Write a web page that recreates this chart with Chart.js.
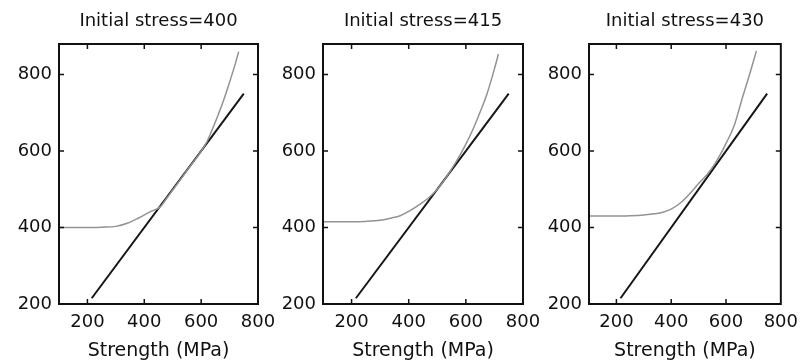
<!DOCTYPE html>
<html>
<head>
<meta charset="utf-8">
<script src="https://cdn.jsdelivr.net/npm/chart.js@4.4.1/dist/chart.umd.min.js"></script>
<style>
  body { margin: 0; background: #fff; width: 806px; height: 363px; position: relative; overflow: hidden; }
  canvas { position: absolute; top: 0; }
</style>
</head>
<body>
<canvas id="panel1" width="290" height="363" style="left:0px"></canvas>
<canvas id="panel2" width="290" height="363" style="left:264px"></canvas>
<canvas id="panel3" width="276" height="363" style="left:530px"></canvas>
<script>
const xTicks = [200, 400, 600, 800];
const yTicks = [200, 400, 600, 800];
const titles = ["Initial stress=400", "Initial stress=415", "Initial stress=430"];

// straight line, identical on the three panels
const lineX = [215, 750];
const lineY = [215, 750];

// stress curve, initial stress 400
const curveX400 = [100, 150, 200, 250, 300, 340, 380, 420, 450, 460, 480, 500, 550, 600, 620, 640, 660, 680, 700, 720, 732];
const curveY400 = [400, 400, 400, 401, 403, 411, 425, 441, 451, 457, 478, 498, 549, 600, 624, 658, 695, 735, 780, 828, 860];

// stress curve, initial stress 415
const curveX415 = [100, 150, 200, 250, 300, 340, 370, 400, 440, 470, 500, 530, 560, 580, 600, 625, 650, 675, 700, 714];
const curveY415 = [415, 415, 415, 416, 419, 425, 431, 442, 461, 478, 500, 530, 565, 590, 618, 657, 702, 752, 815, 854];

// stress curve, initial stress 430
const curveX430 = [100, 150, 200, 250, 300, 340, 370, 400, 440, 470, 500, 530, 560, 580, 600, 630, 660, 690, 711];
const curveY430 = [430, 430, 430, 431, 433, 436, 440, 448, 468, 490, 515, 538, 568, 592, 620, 667, 740, 810, 862];

Chart.defaults.font.family = "'DejaVu Sans', sans-serif";
Chart.defaults.color = "#111";

function pts(xs, ys) {
    return xs.map((x, i) => ({ x: x, y: ys[i] }));
}

// box around the plot area with inward tick marks on all four sides
const frame = {
    id: "frame",
    afterDatasetsDraw(chart) {
        const { ctx, chartArea: a, scales } = chart;
        ctx.save();
        ctx.strokeStyle = "#111";
        ctx.lineWidth = 2;
        ctx.strokeRect(a.left, a.top, a.width, a.height);
        ctx.lineWidth = 1.5;
        ctx.beginPath();
        xTicks.forEach(v => {
            const px = scales.x.getPixelForValue(v);
            if (px >= a.right - 2) return;
            ctx.moveTo(px, a.bottom); ctx.lineTo(px, a.bottom - 5);
            ctx.moveTo(px, a.top); ctx.lineTo(px, a.top + 5);
        });
        yTicks.forEach(v => {
            const py = scales.y.getPixelForValue(v);
            if (py >= a.bottom - 2) return;
            ctx.moveTo(a.left, py); ctx.lineTo(a.left + 5, py);
            ctx.moveTo(a.right, py); ctx.lineTo(a.right - 5, py);
        });
        ctx.stroke();
        ctx.restore();
    }
};

function createPanel(canvasId, title, curveX, curveY, padRight) {
    const ctx = document.getElementById(canvasId).getContext("2d");
    new Chart(ctx, {
        type: "line",
        data: {
            datasets: [{
                data: pts(curveX, curveY),
                borderColor: "#939393",
                borderWidth: 1.5,
                pointRadius: 0,
                cubicInterpolationMode: "monotone"
            }, {
                data: pts(lineX, lineY),
                borderColor: "#161616",
                borderWidth: 2,
                pointRadius: 0
            }]
        },
        options: {
            responsive: false,
            animation: false,
            layout: { padding: { left: 0, right: padRight, top: 0, bottom: 0 } },
            scales: {
                x: {
                    type: "linear",
                    min: 100,
                    max: 800,
                    afterBuildTicks: s => { s.ticks = xTicks.map(v => ({ value: v })); },
                    afterFit: s => { s.height = 59; },
                    ticks: { font: { size: 18 }, padding: 8, maxRotation: 0 },
                    grid: { display: false, drawTicks: false },
                    border: { display: false },
                    title: {
                        display: true,
                        text: "Strength (MPa)",
                        font: { size: 19 },
                        padding: { top: 0, bottom: 1 }
                    }
                },
                y: {
                    type: "linear",
                    min: 200,
                    max: 880,
                    afterBuildTicks: s => { s.ticks = yTicks.map(v => ({ value: v })); },
                    afterFit: s => { s.width = 59; },
                    ticks: { font: { size: 18 }, padding: 7 },
                    grid: { display: false, drawTicks: false },
                    border: { display: false }
                }
            },
            plugins: {
                legend: { display: false },
                tooltip: { enabled: false },
                title: {
                    display: true,
                    text: title,
                    fullSize: false,
                    font: { size: 18, weight: "normal" },
                    padding: { top: 11, bottom: 11.4 }
                }
            }
        },
        plugins: [frame]
    });
}

createPanel("panel1", titles[0], curveX400, curveY400, 32);
createPanel("panel2", titles[1], curveX415, curveY415, 31);
createPanel("panel3", titles[2], curveX430, curveY430, 18);
</script>
</body>
</html>
